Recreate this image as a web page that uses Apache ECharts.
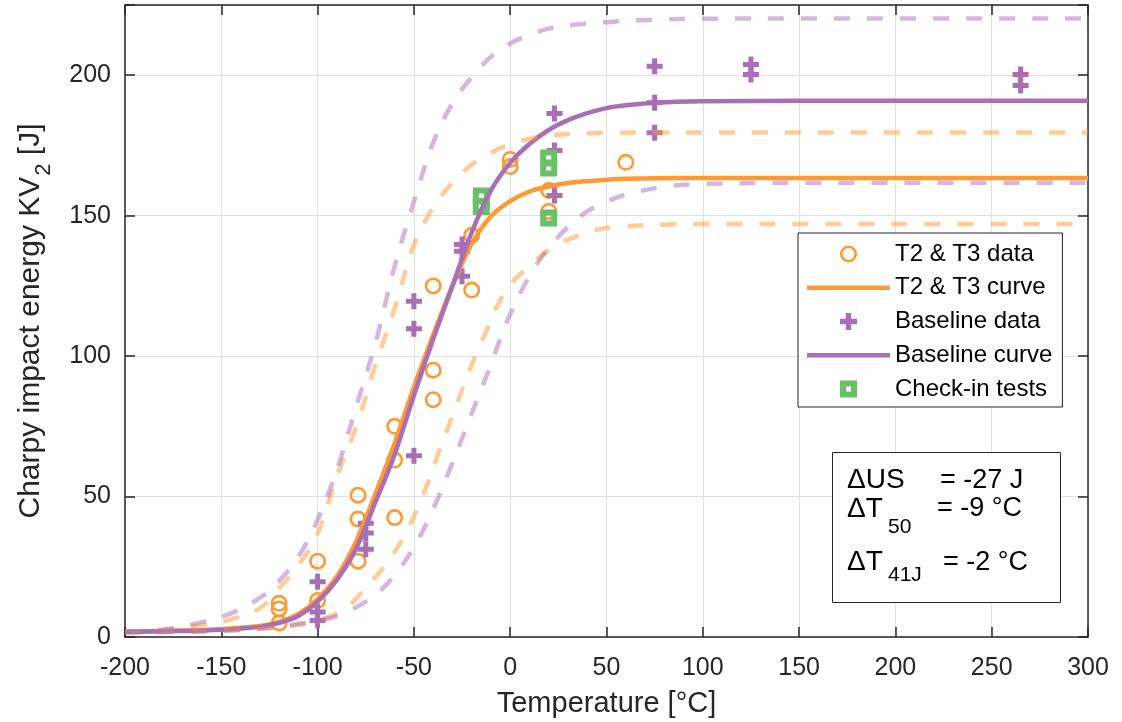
<!DOCTYPE html>
<html>
<head>
<meta charset="utf-8">
<script src="https://cdn.jsdelivr.net/npm/echarts@6/dist/echarts.min.js"></script>
<style>
  html, body { margin: 0; padding: 0; background: #fff; }
  #chart { width: 1122px; height: 722px; }
</style>
</head>
<body>
<div id="chart"></div>
<script>
// ---- Charpy transition data (temperature in °C, energy in J) ----

// T2 & T3 test results
const t23Temp = [-120, -120, -120, -100, -100, -79, -79, -79, -60, -60, -60, -40, -40, -40, -20, -20, 0, 0, 20, 20, 60];
const t23Energy = [12, 10, 5, 27, 13, 50.5, 42, 27, 75, 63, 42.5, 125, 95, 84.5, 143, 123.5, 170, 167.5, 159, 151.5, 169];

// Baseline test results
const baseTemp = [-100, -100, -100, -75, -75, -75, -50, -50, -50, -25, -25, -25, 23, 23, 23, 75, 75, 75, 125, 125, 265, 265];
const baseEnergy = [19.7, 8.9, 5.9, 40.5, 37, 31.2, 119.5, 109.7, 64.5, 139.7, 137.3, 128.4, 186.4, 173.2, 157.2, 203.2, 190.2, 179.5, 203.8, 200.3, 200.3, 196.3];

// Check-in tests
const checkTemp = [-15, -15, 20, 20, 20];
const checkEnergy = [157, 153.3, 170.5, 167, 149.2];

// Fitted transition curves
const curveTemp = [-200, -175, -150, -130, -120, -110, -100, -90, -80, -70, -60, -50, -40, -30, -20, -10, 0, 10, 20, 30, 40, 50, 60, 75, 100, 150, 200, 300];
const t23Curve = [2.0, 2.2, 2.8, 3.9, 5.4, 8.2, 13.5, 21.5, 34, 51, 69, 89, 107.5, 125, 140, 149.8, 155.2, 158.6, 160.4, 161.6, 162.3, 162.8, 163.1, 163.3, 163.4, 163.4, 163.4, 163.4];
const baseCurve = [1.9, 2.1, 2.6, 3.6, 5.0, 7.5, 12.6, 20.3, 31.5, 48, 65, 86, 106, 125, 144, 159, 168.8, 175.5, 180.5, 184, 186.5, 188.3, 189.3, 190.2, 190.7, 190.9, 190.9, 190.9];

// Scatter bands around the curves
const upperBandTemp = [-200, -180, -160, -145, -130, -120, -110, -100, -90, -80, -70, -60, -50, -40, -30, -20, -10, 0, 10, 20, 35, 50, 75, 100, 150, 300];
const baseUpper = [1.9, 2.6, 5.3, 8.4, 13.9, 19.9, 28.6, 41.7, 59.5, 82, 104.5, 132, 155, 176, 190, 199.3, 206.6, 211.3, 214.3, 216.6, 218.1, 218.9, 219.8, 220.1, 220.2, 220.2];
const t23Upper = [2.0, 2.6, 4.2, 6.3, 10.2, 17.3, 25.5, 36.8, 57.2, 74.8, 96.7, 117, 139.5, 153, 161.8, 168.2, 172.4, 175.5, 177.4, 178.5, 179.2, 179.5, 179.6, 179.6, 179.6, 179.6];

const t23LowerTemp = [-200, -170, -150, -130, -115, -105, -95, -85, -75, -65, -55, -45, -37, -31, -25, -19, -12, -7, 0, 10, 20, 30, 45, 60, 80, 100, 150, 300];
const t23Lower = [1.8, 2.0, 2.3, 2.9, 3.8, 5.0, 7.0, 10.4, 17.5, 25.5, 36, 51, 66, 77, 88, 98.7, 109.5, 117.5, 125.5, 132, 137.8, 141.5, 145, 146.2, 146.8, 147, 147, 147];

const baseLowerTemp = [-200, -170, -150, -130, -115, -100, -88, -80, -70, -60, -50, -40, -30, -22, -16, -10, -5, 0, 10, 20, 30, 40, 50, 60, 80, 100, 150, 300];
const baseLower = [1.5, 1.8, 2.2, 3.0, 4.2, 5.8, 7.9, 10.6, 15, 22, 32, 45.5, 62, 76, 86.5, 97, 106.5, 115, 128.5, 138.5, 146, 151.5, 155, 157.5, 160.3, 161.3, 161.7, 161.7];

// Axis ticks
const xTicks = [-200, -150, -100, -50, 0, 50, 100, 150, 200, 250, 300];
const yTicks = [0, 50, 100, 150, 200];

// ---- styling ----
const ORANGE = '#FF9933';
const PURPLE = '#A96FB5';
const GREEN = '#6ABF69';
const AXIS = '#262626';
const FONT = '"Liberation Sans", Arial, Helvetica, sans-serif';

const RING = 'path://M8.5,0A8.5,8.5,0,1,1,8.5,17A8.5,8.5,0,1,1,8.5,0Z M8.5,2.6A5.9,5.9,0,1,0,8.5,14.4A5.9,5.9,0,1,0,8.5,2.6Z';
const PLUS = 'path://M5.5,0H10.5V5.5H16V10.5H10.5V16H5.5V10.5H0V5.5H5.5Z';
const SQUARE_RING = 'path://M0,0H17V17H0Z M6,6V11H11V6Z';
const BAR = 'path://M0,0H83V4.5H0Z';

const pairs = (xs, ys) => xs.map((x, i) => [x, ys[i]]);

function curve(name, xs, ys, color, dashed) {
  return {
    name: name,
    type: 'line',
    data: pairs(xs, ys),
    symbol: 'none',
    smooth: 0.35,
    silent: true,
    itemStyle: { color: color },
    lineStyle: dashed
      ? { color: color, width: 4.5, type: [16, 17], opacity: 0.5, cap: 'butt' }
      : { color: color, width: 4.5 }
  };
}

function points(name, xs, ys, symbol, size, color) {
  return {
    name: name,
    type: 'scatter',
    data: pairs(xs, ys),
    symbol: symbol,
    symbolSize: size,
    symbolKeepAspect: true,
    silent: true,
    itemStyle: { color: color, opacity: 1 }
  };
}

const axisLine = { show: true, onZero: false, lineStyle: { color: AXIS, width: 1.5 } };
const axisTick = { show: true, inside: true, length: 10, lineStyle: { color: AXIS, width: 1.5 } };
const gridLine = { show: true, lineStyle: { color: '#E1E1E1', width: 1 } };

const chart = echarts.init(document.getElementById('chart'), null, { renderer: 'canvas' });

chart.setOption({
  animation: false,
  backgroundColor: '#fff',
  textStyle: { fontFamily: FONT },
  grid: { left: 125, right: 34, top: 5, bottom: 85, containLabel: false, outerBoundsMode: 'none' },
  xAxis: [
    {
      type: 'value', position: 'bottom',
      min: xTicks[0], max: xTicks[xTicks.length - 1], interval: xTicks[1] - xTicks[0],
      axisLine: axisLine, axisTick: axisTick, splitLine: gridLine,
      axisLabel: { fontSize: 25, lineHeight: 25, color: AXIS, margin: 19, fontFamily: FONT },
      name: 'Temperature [°C]', nameLocation: 'middle', nameGap: 50,
      nameTextStyle: { fontSize: 29, lineHeight: 34, color: AXIS, fontFamily: FONT }
    },
    {
      type: 'value', position: 'top',
      min: xTicks[0], max: xTicks[xTicks.length - 1], interval: xTicks[1] - xTicks[0],
      axisLine: axisLine, axisTick: axisTick, axisLabel: { show: false }, splitLine: { show: false }
    }
  ],
  yAxis: [
    {
      type: 'value', position: 'left',
      min: yTicks[0], max: 225, interval: yTicks[1] - yTicks[0],
      axisLine: axisLine, axisTick: axisTick, splitLine: gridLine,
      axisLabel: {
        fontSize: 25, color: AXIS, margin: 14, fontFamily: FONT,
        formatter: v => (yTicks.indexOf(v) >= 0 ? String(v) : '')
      },
      name: '{a|Charpy impact energy KV}{s|2}{a| [J]}',
      nameLocation: 'middle', nameRotate: 90, nameGap: 77, nameMoveOverlap: false,
      nameTextStyle: {
        color: AXIS, fontFamily: FONT,
        rich: {
          a: { fontSize: 30, lineHeight: 34, color: AXIS, fontFamily: FONT },
          s: { fontSize: 22, lineHeight: 22, color: AXIS, fontFamily: FONT, padding: [26, 0, 0, 1] }
        }
      }
    },
    {
      type: 'value', position: 'right',
      min: yTicks[0], max: 225, interval: yTicks[1] - yTicks[0],
      axisLine: axisLine, axisTick: axisTick, axisLabel: { show: false }, splitLine: { show: false }
    }
  ],
  legend: {
    orient: 'vertical',
    left: 798, top: 233,
    padding: [9, 10, 6, 9],
    itemWidth: 83, itemHeight: 17, itemGap: 9.75,
    backgroundColor: '#fff', borderColor: AXIS, borderWidth: 1, borderRadius: 0,
    selectedMode: false,
    symbolKeepAspect: true,
    itemStyle: { borderWidth: 0 },
    textStyle: { fontSize: 24, lineHeight: 24, color: '#000', fontFamily: FONT },
    data: [
      { name: 'T2 & T3 data' },
      { name: 'T2 & T3 curve', icon: BAR },
      { name: 'Baseline data' },
      { name: 'Baseline curve', icon: BAR },
      { name: 'Check-in tests' }
    ]
  },
  series: [
    points('T2 & T3 data', t23Temp, t23Energy, RING, 17, ORANGE),
    curve('T2 & T3 curve', curveTemp, t23Curve, ORANGE, false),
    points('Baseline data', baseTemp, baseEnergy, PLUS, 16, PURPLE),
    curve('Baseline curve', curveTemp, baseCurve, PURPLE, false),
    curve('T2 & T3 upper band', upperBandTemp, t23Upper, ORANGE, true),
    curve('T2 & T3 lower band', t23LowerTemp, t23Lower, ORANGE, true),
    curve('Baseline upper band', upperBandTemp, baseUpper, PURPLE, true),
    curve('Baseline lower band', baseLowerTemp, baseLower, PURPLE, true),
    points('Check-in tests', checkTemp, checkEnergy, SQUARE_RING, 17, GREEN)
  ],
  graphic: {
    elements: [
      { type: 'rect', z: 100, shape: { x: 832.5, y: 452.5, width: 228, height: 150 },
        style: { fill: '#fff', stroke: AXIS, lineWidth: 1 } },
      { type: 'text', z: 101, x: 847, y: 480.5,
        style: { text: 'ΔUS', fontSize: 28, fontFamily: FONT, fill: '#000', verticalAlign: 'middle' } },
      { type: 'text', z: 101, x: 940, y: 480.5,
        style: { text: '= -27 J', fontSize: 27, fontFamily: FONT, fill: '#000', verticalAlign: 'middle' } },
      { type: 'text', z: 101, x: 847, y: 509,
        style: { text: 'ΔT', fontSize: 28, fontFamily: FONT, fill: '#000', verticalAlign: 'middle' } },
      { type: 'text', z: 101, x: 888, y: 527.5,
        style: { text: '50', fontSize: 21, fontFamily: FONT, fill: '#000', verticalAlign: 'middle' } },
      { type: 'text', z: 101, x: 937, y: 509,
        style: { text: '= -9 °C', fontSize: 27, fontFamily: FONT, fill: '#000', verticalAlign: 'middle' } },
      { type: 'text', z: 101, x: 847, y: 562.5,
        style: { text: 'ΔT', fontSize: 28, fontFamily: FONT, fill: '#000', verticalAlign: 'middle' } },
      { type: 'text', z: 101, x: 888, y: 575.5,
        style: { text: '41J', fontSize: 21, fontFamily: FONT, fill: '#000', verticalAlign: 'middle' } },
      { type: 'text', z: 101, x: 943, y: 562.5,
        style: { text: '= -2 °C', fontSize: 27, fontFamily: FONT, fill: '#000', verticalAlign: 'middle' } }
    ]
  }
});
</script>
</body>
</html>
